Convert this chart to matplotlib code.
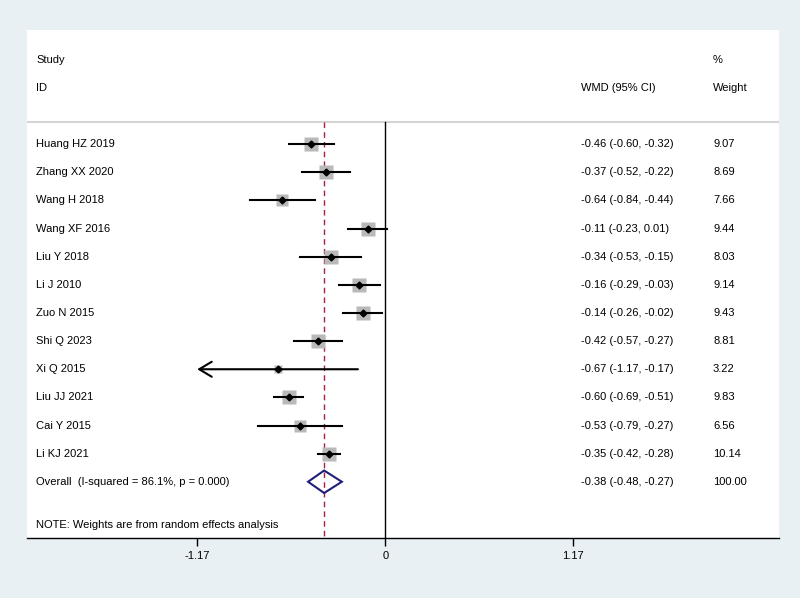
import matplotlib.pyplot as plt
import numpy as np

plt.rcParams['font.family'] = ['Liberation Sans', 'DejaVu Sans']

studies = ["Huang HZ 2019", "Zhang XX 2020", "Wang H 2018", "Wang XF 2016", "Liu Y 2018",
           "Li J 2010", "Zuo N 2015", "Shi Q 2023", "Xi Q 2015", "Liu JJ 2021",
           "Cai Y 2015", "Li KJ 2021"]
wmd = [-0.46, -0.37, -0.64, -0.11, -0.34, -0.16, -0.14, -0.42, -0.67, -0.60, -0.53, -0.35]
lo = [-0.60, -0.52, -0.84, -0.23, -0.53, -0.29, -0.26, -0.57, -1.17, -0.69, -0.79, -0.42]
hi = [-0.32, -0.22, -0.44, 0.01, -0.15, -0.03, -0.02, -0.27, -0.17, -0.51, -0.27, -0.28]
weights = [9.07, 8.69, 7.66, 9.44, 8.03, 9.14, 9.43, 8.81, 3.22, 9.83, 6.56, 10.14]
overall = (-0.38, -0.48, -0.27)
overall_label = "Overall  (I-squared = 86.1%, p = 0.000)"
note = "NOTE: Weights are from random effects analysis"
xticks = [-1.17, 0, 1.17]
xlim = (-2.228, 2.452)

fig = plt.figure(figsize=(8, 5.98), dpi=100)
fig.patch.set_facecolor('#e8f0f3')
ax = fig.add_axes([0.034, 0.1003, 0.94, 0.8495])
ax.set_facecolor('white')
ax.set_xlim(*xlim)
ax.set_ylim(14.0, -4.06)

n = len(studies)
fs = 8
tx = ax.get_yaxis_transform()  # x in axes fraction, y in data

# headers
ax.text(0.012, -3, "Study", transform=tx, fontsize=fs, va='center')
ax.text(0.012, -2, "ID", transform=tx, fontsize=fs, va='center')
ax.text(0.737, -2, "WMD (95% CI)", transform=tx, fontsize=fs, va='center')
ax.text(0.912, -3, "%", transform=tx, fontsize=fs, va='center')
ax.text(0.912, -2, "Weight", transform=tx, fontsize=fs, va='center')
ax.axhline(-0.78, color='#d4d4d4', lw=1.5)

# reference lines
ax.plot([0, 0], [-0.78, 14.0], color='black', lw=1)
ax.plot([overall[0], overall[0]], [-0.78, 14.0], color='#a8203a', lw=1, ls=(0, (4, 3)))

for i in range(n):
    side = 4.0 * np.sqrt(weights[i])  # px
    ax.plot(wmd[i], i, marker='s', ms=side * 0.72 * 1.15, color='#b9b9b9', mec='none', zorder=2)
    if lo[i] <= -1.17:
        ax.annotate("", xy=(lo[i], i), xytext=(hi[i], i),
                    arrowprops=dict(arrowstyle='->,head_length=0.5,head_width=0.3', color='black',
                                    lw=1.5, mutation_scale=18, shrinkA=0, shrinkB=0), zorder=3)
    else:
        ax.plot([lo[i], hi[i]], [i, i], color='black', lw=1.5, zorder=3)
    ax.plot(wmd[i], i, marker='D', ms=3.5, color='black', zorder=4)
    ax.text(0.012, i, studies[i], transform=tx, fontsize=fs, va='center')
    ax.text(0.737, i, "%.2f (%.2f, %.2f)" % (wmd[i], lo[i], hi[i]), transform=tx,
            fontsize=fs, va='center')
    ax.text(0.912, i, "%.2f" % weights[i], transform=tx, fontsize=fs, va='center')

# overall diamond
oy = n
ax.fill([overall[1], overall[0], overall[2], overall[0], overall[1]],
        [oy, oy - 0.4, oy, oy + 0.4, oy], facecolor='none', edgecolor='#1f1f7a', lw=1.5, zorder=4)
ax.text(0.012, oy, overall_label, transform=tx, fontsize=fs, va='center')
ax.text(0.737, oy, "%.2f (%.2f, %.2f)" % overall, transform=tx, fontsize=fs, va='center')
ax.text(0.912, oy, "100.00", transform=tx, fontsize=fs, va='center')
ax.text(0.012, n + 1.55, note, transform=tx, fontsize=fs, va='center')

for s in ['top', 'right', 'left']:
    ax.spines[s].set_visible(False)
ax.spines['bottom'].set_linewidth(1)
ax.set_yticks([])
ax.set_xticks(xticks)
ax.set_xticklabels(["-1.17", "0", "1.17"], fontsize=fs)
ax.tick_params(axis='x', length=6, width=1, pad=3)

plt.savefig("out.png", dpi=100, facecolor=fig.get_facecolor())
